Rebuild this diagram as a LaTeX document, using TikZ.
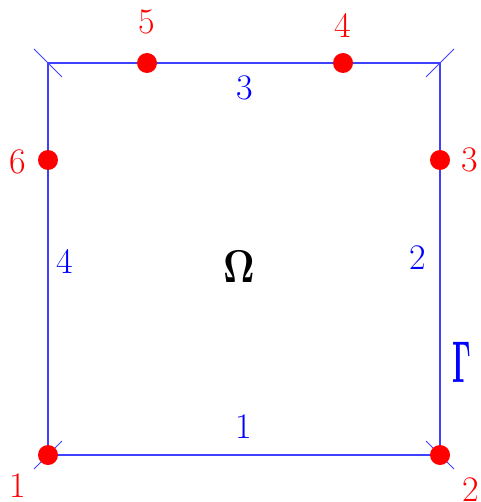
\documentclass[tikz,border=0pt]{standalone}
\usepackage{fontspec}
\begin{document}
\begin{tikzpicture}[x=1pt,y=-1pt,
  edge/.style={draw=blue!75!white, line width=1.1pt},
  tickline/.style={draw=blue!75!white, line width=1pt},
  vtx/.style={circle, fill=red, inner sep=0pt, minimum size=20pt},
  rlab/.style={text=red, inner sep=0pt, font=\fontsize{36}{36}\selectfont},
  blab/.style={text=blue, inner sep=0pt, font=\fontsize{36}{36}\selectfont},
]
\useasboundingbox (0,0) rectangle (480,502);
% corners
\coordinate (A) at (48,455);
\coordinate (B) at (440,455);
\coordinate (C) at (440,63);
\coordinate (D) at (48,63);
% tick ends
\coordinate (A1) at (34,469); \coordinate (A2) at (62,441);
\coordinate (B1) at (426,441); \coordinate (B2) at (454,469);
\coordinate (C1) at (426,77); \coordinate (C2) at (454,49);
\coordinate (D1) at (34,49); \coordinate (D2) at (62,77);
\draw[edge] (A) -- (B) -- (C) -- (D) -- cycle;
\draw[tickline] (A1) -- (A2);
\draw[tickline] (B1) -- (B2);
\draw[tickline] (C1) -- (C2);
\draw[tickline] (D1) -- (D2);
% vertices
\node[vtx] (p1) at (A) {};
\node[vtx] (p2) at (B) {};
\node[vtx] (p3) at (440,160) {};
\node[vtx] (p4) at (343,63) {};
\node[vtx] (p5) at (147,63) {};
\node[vtx] (p6) at (48,160) {};
% vertex labels
\node[rlab] (l1) at (18,486) {1};
\node[rlab] (l2) at (471,490) {2};
\node[rlab] (l3) at (470,160) {3};
\node[rlab] (l4) at (343,25) {4};
\node[rlab] (l5) at (147,22) {5};
\node[rlab] (l6) at (18,162) {6};
% edge labels
\node[blab] (e1) at (244,427) {1};
\node[blab] (e2) at (418,258) {2};
\node[blab] (e3) at (245,88) {3};
\node[blab] (e4) at (65,261) {4};
% domain and boundary
\node[inner sep=0pt] (omega) at (239,267) {\scalebox{3.8}[4.6]{\boldmath$\Omega$}};
\node[inner sep=0pt, text=blue] (gamma) at (462,362) {\scalebox{2.7}[5.9]{\boldmath$\Gamma$}};
\end{tikzpicture}
\end{document}
